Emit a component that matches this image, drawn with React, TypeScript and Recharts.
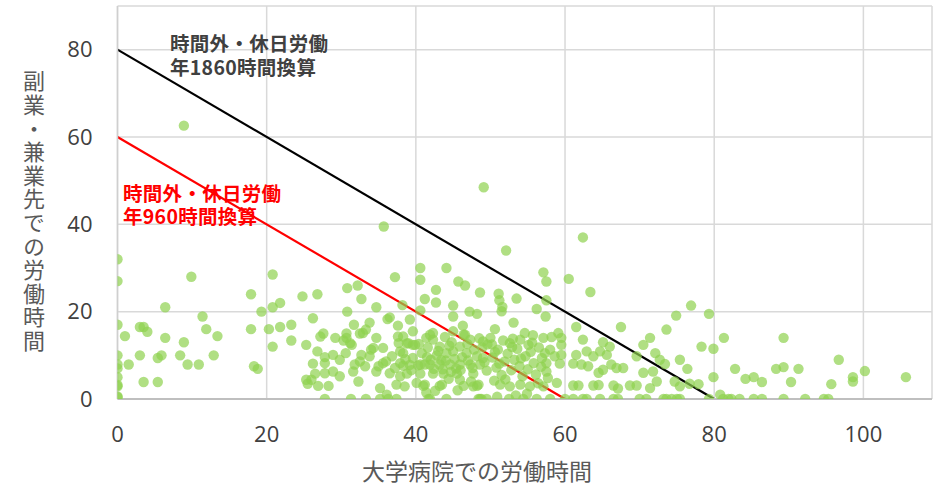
import React from 'react';
import { ScatterChart, Scatter, XAxis, YAxis, CartesianGrid, ReferenceLine } from 'recharts';

// [大学病院での労働時間, 副業・兼業先での労働時間]
const band0to20: [number, number][] = [
  [0, 32], [0, 27], [0, 17], [0, 10], [0, 7.9], [0, 7], [0, 5], [0, 2.9], [0, 3.2], [0, 0.4], [0, 0.6],
  [1, 14.4], [1.5, 7.9], [3, 10], [3, 16.5], [3.5, 16.5], [4, 15.4], [3.5, 3.9], [5.4, 3.9], [5.4, 9.4],
  [5.9, 10], [6.4, 21], [6.4, 14], [8.4, 10], [8.9, 13], [8.9, 62.6], [9.4, 7.9], [9.9, 28], [10.9, 7.9],
  [11.4, 18.9], [11.9, 16], [12.9, 10], [13.4, 14.4], [17.9, 24], [17.9, 16], [18.3, 7.5], [18.8, 6.9], [19.3, 20],
];

const band20to30: [number, number][] = [
  [20.3, 16], [20.8, 28.5], [20.8, 21], [20.8, 12], [21.8, 22], [21.8, 16.5], [23.3, 17], [23.3, 13.4],
  [24.8, 23.5], [25.3, 12.4], [25.3, 4.4], [25.5, 3.5], [26.2, 18.5], [26.8, 24], [26.8, 10.9], [26.2, 8.1],
  [26.5, 5.8], [26, 4.4], [26.9, 3], [27.2, 14.3], [27.6, 15], [27.8, 9.6], [27.8, 8.2], [27.8, 5.9], [27.8, 0],
  [28.3, 3], [28.9, 10.1], [28.9, 6.3], [29.2, 14], [29.8, 9], [29.8, 5.2],
];

const band30to40: [number, number][] = [
  [30.8, 25.4], [30.8, 20], [30.7, 15], [30.7, 14], [30.3, 13.4], [30.6, 10.5], [31.2, 12.8], [31.4, 12.4],
  [31.6, 6.3], [31.7, 17], [31.8, 7.9], [31.3, 0], [32.2, 26], [32.3, 4], [32.5, 15], [32.5, 8.6], [32.7, 22.9],
  [32.7, 10.1], [32.9, 15.1], [33.2, 7.5], [33.3, 15.9], [33.3, 0], [33.8, 17.5], [33.8, 9.8], [34, 11.3],
  [34.3, 11.7], [34.7, 21], [34.7, 14], [34.7, 6.3], [35, 7.5], [35.2, 2.5], [35.2, 0], [35.6, 11.7], [35.6, 8.2],
  [35.7, 39.5], [36.1, 1], [36.2, 18.3], [36.3, 0], [36.5, 18.7], [36.5, 5.9], [36.8, 9.8], [37.2, 27.9],
  [37.4, 3.3], [37.4, 0], [37.6, 16.8], [37.6, 14.3], [37.7, 12.8], [37.9, 8.2], [37.9, 5.2], [37.9, 10.9],
  [38.2, 21.5], [38.3, 7.6], [38.3, 14.3], [38.3, 10.5], [38.5, 2.9], [38.8, 12.7], [38.8, 5.8], [39, 12.8],
  [39.2, 18.2], [39.2, 7.8], [39.6, 15.5], [39.6, 12.4], [39.6, 9.4], [39.9, 12.4],
  [36, 8.6], [38.6, 9.1], [39.4, 6.6], [37.2, 7.1],
];

const band40to50: [number, number][] = [
  [40.1, 3.7], [40.3, 7.7], [40.6, 30], [40.6, 27.3], [40.6, 20.3], [40.6, 7.9], [40.6, 5.8], [41, 3],
  [41.2, 22.9], [41.2, 7.9], [41.2, 3.3], [41.4, 14], [41.4, 1.5], [41.7, 0], [41.9, 14.7], [41.9, 7.9], [41.9, 0],
  [42.3, 15.1], [42.3, 13.6], [42.3, 5.8], [42.7, 25], [42.7, 22.1], [43.2, 12], [43.2, 7.9], [43.2, 3],
  [43.5, 3.3], [43.7, 5.8], [44.1, 30], [44.1, 10.5], [44.1, 0], [44.6, 7.9], [45, 21.4], [45, 18.9], [45, 15.5],
  [45, 10.9], [45.5, 5.8], [45.7, 26.9], [45.9, 12], [45.9, 7.9], [45.9, 4.4], [46.3, 16.8], [46.4, 14.7],
  [46.4, 3], [46.6, 26], [46.6, 14.7], [47.2, 20], [47.3, 13.6], [47.3, 7.9], [47.7, 5.8], [47.7, 2.9],
  [48.2, 19.5], [48.2, 9.8], [48.2, 3], [48.4, 3.3], [48.4, 0], [48.6, 24.4], [48.6, 7.9], [48.6, 0], [48.8, 0],
  [49, 13.2], [49, 9.4], [49.1, 48.5], [49.5, 0],
  [42.8, 10], [44, 8.8], [46.8, 10.5], [47.8, 11.3], [49.5, 6.5], [43.6, 6.8], [45.2, 9.2], [40.8, 10.5],
  [41.6, 11.8], [44.8, 13], [46, 6.6], [48.9, 11.8], [42, 9], [47, 8.8], [49.6, 12.5], [43.9, 14.2],
  [40.4, 12.6], [45.6, 2], [44.4, 4.6], [47.4, 4], [42.6, 1.9],
  [41.5, 9.6], [43, 11], [44.5, 12.2], [46.2, 9.6], [47.6, 7.1], [48.5, 13.9], [43.4, 8.9], [45.4, 7], [49.2, 8.4],
  [42.4, 6.9], [46.9, 12.6], [44.7, 6.2],
];

const band50to60: [number, number][] = [
  [50, 14], [50.6, 16], [51.1, 24.1], [51.2, 22.6], [51.3, 3.3], [51.5, 20.1], [51.6, 21.1], [52.1, 34],
  [52.6, 12.8], [52.6, 2.9], [53.1, 17.5], [53.5, 23], [54, 13.6], [54, 3.3], [54.4, 0], [54.6, 15.1],
  [55.1, 12.4], [55.3, 2.9], [56.2, 20.6], [56.2, 0], [57.1, 29], [57.1, 14], [57.1, 2.9], [57.5, 26.9],
  [57.4, 18.9], [57.5, 22.6], [57.5, 8.2], [57.5, 6.3], [57.7, 4.8], [57.3, 10.5], [58, 11.3], [58, 0],
  [58.2, 14.2], [58.6, 9.8], [58.9, 3.7], [59.1, 15.1], [59.3, 8.1], [59.5, 14], [59.5, 12.4], [59.5, 10.1],
  [50.3, 9.5], [50.8, 7.2], [51, 11.3], [51.5, 5.5], [51.9, 8.6], [52.3, 10.4], [52.8, 6.6], [53.2, 9],
  [53.6, 11.5], [53.9, 7.5], [54.3, 5.2], [54.7, 9.8], [55, 6.8], [55.4, 10.8], [55.8, 8.2], [56.1, 5.6],
  [56.5, 11.8], [56.8, 7.4], [50.5, 4.2], [52, 4.5], [53, 13.8], [55.7, 14.6], [56.4, 3.6], [50.2, 12.5],
  [51.7, 13.4], [54.9, 1.2], [53.4, 0.8], [52.5, 0], [50.9, 0.5],
  [51.2, 8.1], [52.9, 11.9], [54.1, 9.3], [55.6, 12.9], [56.9, 9.4], [50.6, 10.8],
];

const band60to80: [number, number][] = [
  [60.5, 27.5], [60, 0], [61.1, 8.1], [61.1, 3.1], [61.1, 0], [61.5, 16.5], [61.5, 10.1], [61.8, 3.1],
  [62.2, 7.9], [62.4, 37], [62.4, 13.6], [62.4, 0], [62.9, 10.9], [62.9, 0], [63.1, 7.5], [63.4, 24.5],
  [63.8, 9.8], [63.8, 3.1], [64.5, 6], [64.5, 3.2], [64.7, 10.9], [64.7, 0], [65.1, 13], [65.1, 6.7],
  [65.6, 10.1], [66, 12], [66.2, 7.9], [66.5, 3.1], [66.5, 0], [66.9, 7.1], [67.1, 2.4], [67.1, 0],
  [67.5, 16.5], [67.8, 7.1], [68.7, 3.1], [69.6, 9.8], [69.6, 3.1], [70, 0], [70.5, 12.4], [70.5, 6],
  [70.9, 0], [71.4, 14], [71.4, 2.5], [71.8, 6.3], [72.1, 10.5], [72.3, 4], [72.7, 9], [73.2, 0], [73.4, 8],
  [73.6, 15.9], [73.6, 0], [74.3, 0], [74.7, 4], [74.9, 19.1], [75, 0], [75.4, 9], [75.4, 2.9], [75.4, 0],
  [76.4, 6.9], [76.7, 3.5], [76.9, 21.4], [77.9, 3.4], [78.3, 12], [79.3, 19.5], [79.3, 0], [79.9, 11.5], [79.9, 5],
];

const band80plus: [number, number][] = [
  [80.8, 1], [81.2, 0], [81.3, 14], [81.9, 0], [82.3, 0], [82.8, 6.9], [83.4, 0], [84.2, 4.6], [85.3, 5],
  [85.3, 0], [86.4, 3.9], [86.4, 0], [88.3, 6.9], [89.3, 7.3], [89.3, 14], [89.3, 0], [90.3, 3.9], [91.3, 6.9],
  [92.2, 0], [94.7, 0], [95.3, 0], [95.7, 3.4], [96.7, 9], [98.6, 5], [98.6, 4], [100.2, 6.4], [105.7, 5],
];

const xTicks = [0, 20, 40, 60, 80, 100];
const yTicks = [0, 20, 40, 60, 80];

const line1860 = [{ x: 0, y: 80 }, { x: 80, y: 0 }];
const line960 = [{ x: 0, y: 60 }, { x: 60, y: 0 }];

const points = [...band0to20, ...band20to30, ...band30to40, ...band40to50, ...band50to60, ...band60to80, ...band80plus]
  .map(([x, y]) => ({ x, y }));

const jpFont = '"Noto Sans CJK JP", "Noto Sans", sans-serif';
const numFont = '"Open Sans", "Noto Sans", sans-serif';

const Dot = (props: any) => (
  <circle cx={props.cx} cy={props.cy} r={5.2} fill="#8fd14f" fillOpacity={0.7} />
);

const labelStyle = (left: number, top: number, color: string): React.CSSProperties => ({
  position: 'absolute', left, top, fontFamily: jpFont, fontWeight: 700, fontSize: 19.5,
  lineHeight: '22px', letterSpacing: 0.3, color, whiteSpace: 'nowrap',
});

export default function App() {
  return (
    <div style={{ position: 'absolute', left: 0, top: 0, width: 939, height: 485, background: '#fff' }}>
      <ScatterChart width={939} height={485} margin={{ top: 6, right: 7, bottom: 0, left: 0 }}>
        <CartesianGrid stroke="#d9d9d9" strokeWidth={1.5} />
        <XAxis
          type="number"
          dataKey="x"
          domain={[0, 109.2]}
          allowDataOverflow
          ticks={xTicks}
          height={86}
          tickLine={false}
          tickSize={0}
          tickMargin={27}
          axisLine={{ stroke: '#bfbfbf', strokeWidth: 2 }}
          tick={{ fill: '#404040', fontSize: 22, fontFamily: numFont }}
        />
        <YAxis
          type="number"
          dataKey="y"
          domain={[0, 90]}
          allowDataOverflow
          ticks={yTicks}
          width={117.5}
          tickLine={false}
          tickSize={0}
          tickMargin={25}
          axisLine={{ stroke: '#cfcfcf', strokeWidth: 1.5 }}
          tick={{ fill: '#404040', fontSize: 22, fontFamily: numFont }}
        />
        <ReferenceLine segment={line960} stroke="#ff0000" strokeWidth={2.2} />
        <ReferenceLine segment={line1860} stroke="#000000" strokeWidth={2.2} />
        <Scatter data={points} shape={Dot} isAnimationActive={false} />
      </ScatterChart>

      <div style={labelStyle(170, 32, '#404040')}>時間外・休日労働</div>
      <div style={labelStyle(170, 56, '#404040')}>年1860時間換算</div>
      <div style={labelStyle(123, 182, '#ff0000')}>時間外・休日労働</div>
      <div style={labelStyle(123, 205, '#ff0000')}>年960時間換算</div>
      <div style={{ position: 'absolute', left: 18, top: 70, fontFamily: jpFont, fontSize: 22, letterSpacing: 1.6, color: '#595959', writingMode: 'vertical-rl', whiteSpace: 'nowrap' }}>
        副業・兼業先での労働時間
      </div>
      <div style={{ position: 'absolute', left: 477, top: 456, transform: 'translateX(-50%)', fontFamily: jpFont, fontSize: 23, lineHeight: '28px', color: '#595959', whiteSpace: 'nowrap' }}>
        大学病院での労働時間
      </div>
    </div>
  );
}
